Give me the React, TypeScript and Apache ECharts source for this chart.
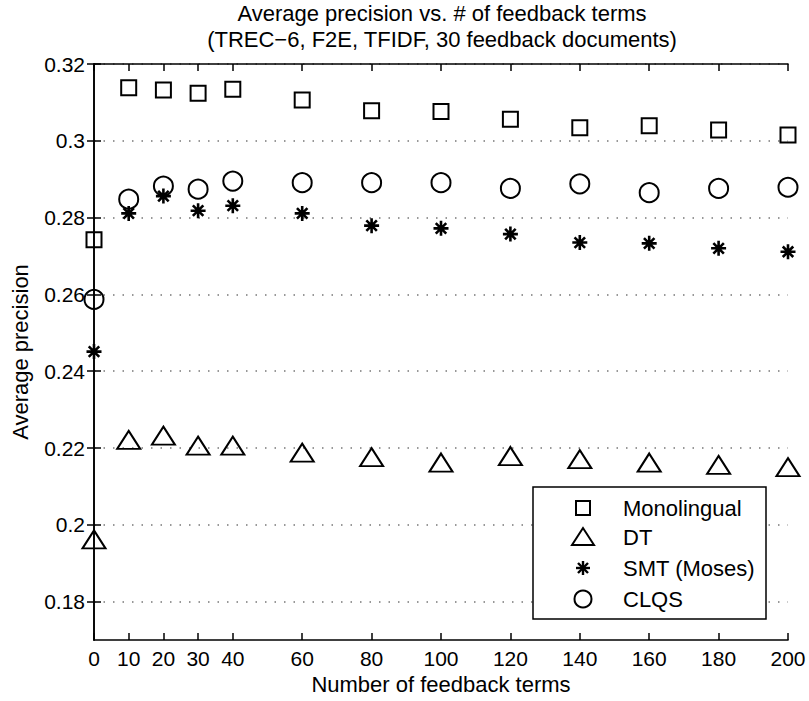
import React, { useEffect, useRef } from "react";
import * as echarts from "echarts";

// Number of feedback terms used for query expansion
const terms = [0, 10, 20, 30, 40, 60, 80, 100, 120, 140, 160, 180, 200];

// Average precision per method
const monolingual = [0.2742, 0.3138, 0.3132, 0.3124, 0.3134, 0.3106, 0.3078, 0.3076, 0.3056, 0.3034, 0.3039, 0.3028, 0.3015];
const dt = [0.1962, 0.2221, 0.2232, 0.2206, 0.2206, 0.2188, 0.2176, 0.2162, 0.2179, 0.2171, 0.2162, 0.2156, 0.215];
const smt = [0.2451, 0.2811, 0.2856, 0.2818, 0.2831, 0.2811, 0.2779, 0.2772, 0.2757, 0.2735, 0.2733, 0.272, 0.2711];
const clqs = [0.2587, 0.2848, 0.2882, 0.2874, 0.2895, 0.2891, 0.2891, 0.2891, 0.2876, 0.2888, 0.2865, 0.2876, 0.2879];

// Axis ticks
const xTicks = [0, 10, 20, 30, 40, 60, 80, 100, 120, 140, 160, 180, 200];
const yTicks = [0.18, 0.2, 0.22, 0.24, 0.26, 0.28, 0.3, 0.32];

const seriesNames = ["Monolingual", "DT", "SMT (Moses)", "CLQS"];

const FONT = "Liberation Sans, Arial, Helvetica, sans-serif";
const INK = "#000";

// Eight-armed asterisk marker
const ASTERISK = "path://M10 0 L10 20 M0 10 L20 10 M3 3 L17 17 M3 17 L17 3";

const GRID = { left: 94, top: 64, width: 694, height: 576 };

function pairs(ys: number[]) {
  return terms.map((x, i) => [x, ys[i]]);
}

export default function App() {
  const ref = useRef<HTMLDivElement>(null);

  useEffect(() => {
    if (!ref.current) return;
    const chart = echarts.init(ref.current, null, { renderer: "svg" });

    const hollow = { color: "transparent", borderColor: INK, borderWidth: 2, opacity: 1 };

    const axisLine = { show: true, lineStyle: { color: INK, width: 1.6 } };
    const xTick = { show: true, inside: true, length: 7, customValues: xTicks, lineStyle: { color: INK, width: 1.5 } };
    const yTick = { show: true, inside: true, length: 7, customValues: yTicks, lineStyle: { color: INK, width: 1.5 } };

    const lx = 533, ly = 487;
    const rows = [508, 537, 568, 599];
    const iconX = 583;
    const legendText = seriesNames.map((name, i) => ({
      type: "text",
      x: 623,
      y: rows[i],
      z: 101,
      style: { text: name, fontSize: 22, fontFamily: FONT, fill: INK, verticalAlign: "middle", align: "left" },
    }));
    const stroke = { fill: "transparent", stroke: INK, lineWidth: 2 };
    const ay = rows[2];

    const option = {
      animation: false,
      backgroundColor: "#fff",
      textStyle: { fontFamily: FONT },
      grid: GRID,
      xAxis: [
        {
          type: "value",
          min: 0,
          max: 200,
          position: "bottom",
          name: "Number of feedback terms",
          nameLocation: "middle",
          nameGap: 29,
          nameTextStyle: { fontSize: 22, color: INK, fontFamily: FONT },
          axisLine,
          axisTick: xTick,
          axisLabel: { customValues: xTicks, fontSize: 21, color: INK, margin: 8, fontFamily: FONT },
          splitLine: { show: false },
        },
        {
          type: "value",
          min: 0,
          max: 200,
          position: "top",
          axisLine,
          axisTick: xTick,
          axisLabel: { show: false },
          splitLine: { show: false },
        },
      ],
      yAxis: [
        {
          type: "value",
          min: 0.17,
          max: 0.32,
          position: "left",
          name: "Average precision",
          nameLocation: "middle",
          nameGap: 63,
          nameTextStyle: { fontSize: 22, color: INK, fontFamily: FONT },
          axisLine,
          axisTick: yTick,
          axisLabel: {
            customValues: yTicks,
            fontSize: 21,
            color: INK,
            margin: 9,
            fontFamily: FONT,
            formatter: (v: number) => String(+v.toFixed(2)),
          },
          splitLine: { show: true, lineStyle: { color: "#777", width: 1.5, type: [1.5, 8] } },
        },
        {
          type: "value",
          min: 0.17,
          max: 0.32,
          position: "right",
          axisLine,
          axisTick: yTick,
          axisLabel: { show: false },
          splitLine: { show: false },
        },
      ],
      series: [
        { name: seriesNames[0], type: "scatter", clip: false, symbol: "rect", symbolSize: 15, itemStyle: hollow, data: pairs(monolingual), z: 3 },
        { name: seriesNames[1], type: "scatter", clip: false, symbol: "triangle", symbolSize: [23, 18], itemStyle: hollow, data: pairs(dt), z: 3 },
        { name: seriesNames[2], type: "scatter", clip: false, symbol: ASTERISK, symbolSize: 15, itemStyle: { color: "transparent", borderColor: INK, borderWidth: 2.6, opacity: 1 }, data: pairs(smt), z: 3 },
        { name: seriesNames[3], type: "scatter", clip: false, symbol: "circle", symbolSize: 19, itemStyle: hollow, data: pairs(clqs), z: 3 },
      ],
      graphic: [
        {
          type: "text",
          x: 442,
          y: 26,
          style: {
            text: "Average precision vs. # of feedback terms\n(TREC\u22126, F2E, TFIDF, 30 feedback documents)",
            fontSize: 22,
            lineHeight: 26,
            fontFamily: FONT,
            fill: INK,
            align: "center",
            verticalAlign: "middle",
          },
        },
        { type: "rect", z: 100, shape: { x: lx, y: ly, width: 233, height: 132 }, style: { fill: "#fff", stroke: INK, lineWidth: 1.5 } },
        { type: "rect", z: 101, shape: { x: iconX - 7, y: rows[0] - 7, width: 14, height: 14 }, style: stroke },
        { type: "polygon", z: 101, shape: { points: [[iconX, rows[1] - 9], [iconX - 11, rows[1] + 8], [iconX + 11, rows[1] + 8]] }, style: stroke },
        { type: "line", z: 101, shape: { x1: iconX, y1: ay - 7, x2: iconX, y2: ay + 7 }, style: { stroke: INK, lineWidth: 2.4 } },
        { type: "line", z: 101, shape: { x1: iconX - 7, y1: ay, x2: iconX + 7, y2: ay }, style: { stroke: INK, lineWidth: 2.4 } },
        { type: "line", z: 101, shape: { x1: iconX - 5, y1: ay - 5, x2: iconX + 5, y2: ay + 5 }, style: { stroke: INK, lineWidth: 2.4 } },
        { type: "line", z: 101, shape: { x1: iconX - 5, y1: ay + 5, x2: iconX + 5, y2: ay - 5 }, style: { stroke: INK, lineWidth: 2.4 } },
        { type: "circle", z: 101, shape: { cx: iconX, cy: rows[3], r: 8.5 }, style: stroke },
        ...legendText,
      ],
    };

    chart.setOption(option as any);
    return () => chart.dispose();
  }, []);

  return (
    <div
      ref={ref}
      style={{ position: "absolute", left: 0, top: 0, width: 809, height: 701, background: "#fff" }}
    />
  );
}
